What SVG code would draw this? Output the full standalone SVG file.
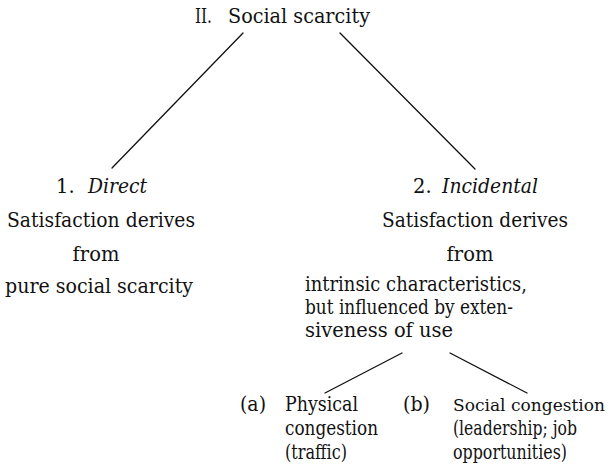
<svg xmlns="http://www.w3.org/2000/svg" width="610" height="474" viewBox="0 0 610 474">
<style>
text { font-family: "DejaVu Serif", "Liberation Serif", serif; font-size: 19.5px; fill: #111; }
.it { font-style: italic; }
.mid { text-anchor: middle; }
.conn line { stroke: #111; stroke-width: 1.3; stroke-linecap: round; }
</style>
<rect width="610" height="474" fill="#fff"/>
<g id="root">
  <text x="195" y="23" textLength="17" lengthAdjust="spacingAndGlyphs">II.</text>
  <text x="228" y="23" textLength="142" lengthAdjust="spacingAndGlyphs">Social scarcity</text>
</g>
<g id="direct">
  <text x="56" y="193">1.</text>
  <text x="88" y="193" class="it" textLength="59" lengthAdjust="spacingAndGlyphs">Direct</text>
  <text x="7" y="227" textLength="188" lengthAdjust="spacingAndGlyphs">Satisfaction derives</text>
  <text x="96" y="261" class="mid">from</text>
  <text x="5" y="293" textLength="188" lengthAdjust="spacingAndGlyphs">pure social scarcity</text>
</g>
<g id="incidental">
  <text x="413" y="193">2.</text>
  <text x="442" y="193" class="it" textLength="96" lengthAdjust="spacingAndGlyphs">Incidental</text>
  <text x="382" y="227" textLength="186" lengthAdjust="spacingAndGlyphs">Satisfaction derives</text>
  <text x="470" y="261" class="mid">from</text>
  <text x="305" y="291" textLength="222" lengthAdjust="spacingAndGlyphs">intrinsic characteristics,</text>
  <text x="305" y="314" textLength="208" lengthAdjust="spacingAndGlyphs">but influenced by exten-</text>
  <text x="305" y="337" textLength="148" lengthAdjust="spacingAndGlyphs">siveness of use</text>
</g>
<g id="physical">
  <text x="240" y="411" textLength="26" lengthAdjust="spacingAndGlyphs">(a)</text>
  <text x="285" y="411" textLength="73" lengthAdjust="spacingAndGlyphs">Physical</text>
  <text x="285" y="435" textLength="93" lengthAdjust="spacingAndGlyphs">congestion</text>
  <text x="285" y="459" textLength="62" lengthAdjust="spacingAndGlyphs">(traffic)</text>
</g>
<g id="social">
  <text x="403" y="411" textLength="27" lengthAdjust="spacingAndGlyphs">(b)</text>
  <text x="453" y="411" style="font-size:17.2px" textLength="152" lengthAdjust="spacingAndGlyphs">Social congestion</text>
  <text x="453" y="435" textLength="124" lengthAdjust="spacingAndGlyphs">(leadership; job</text>
  <text x="453" y="459" textLength="114" lengthAdjust="spacingAndGlyphs">opportunities)</text>
</g>
<g id="connectors" class="conn">
  <line x1="243" y1="33" x2="112" y2="168"/>
  <line x1="340" y1="33" x2="475" y2="169"/>
  <line x1="402" y1="353" x2="325" y2="393"/>
  <line x1="450" y1="353" x2="527" y2="393"/>
</g>
</svg>
